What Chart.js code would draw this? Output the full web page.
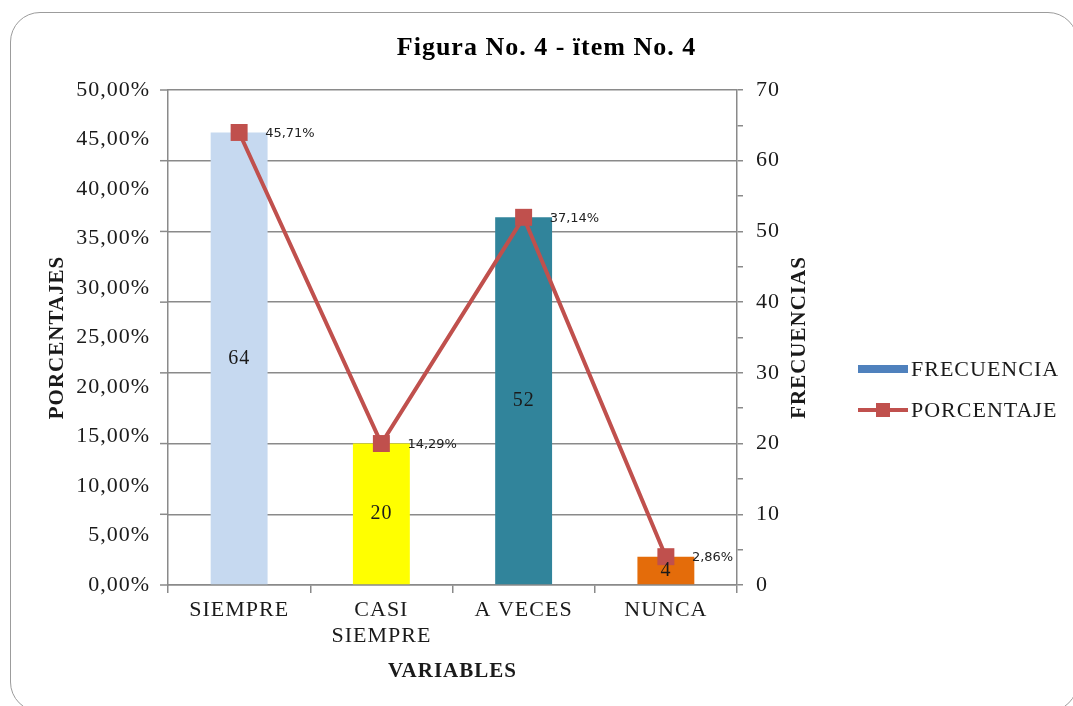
<!DOCTYPE html>
<html>
<head>
<meta charset="utf-8">
<script src="https://cdn.jsdelivr.net/npm/chart.js@4.4.1/dist/chart.umd.min.js"></script>
<style>
  html, body { margin: 0; padding: 0; background: #fff; overflow: hidden; }
  #wrap { position: relative; width: 1073px; height: 706px; overflow: hidden; }
  #frame { position: absolute; left: 10px; top: 12px; width: 1068px; height: 700px;
           border: 1.5px solid #9c9c9c; border-radius: 30px; box-sizing: border-box; }
  canvas { position: absolute; left: 0; top: 0; }
</style>
</head>
<body>
<div id="wrap">
  <div id="frame"></div>
  <canvas id="chart" width="1073" height="706"></canvas>
</div>
<script>
// Categories and series
const categories = ['SIEMPRE', ['CASI', 'SIEMPRE'], 'A VECES', 'NUNCA'];
const frecuencias = [64, 20, 52, 4];
const porcentajes = [45.71, 14.29, 37.14, 2.86];
const barColors = ['#C6D9F0', '#FFFF00', '#31849B', '#E46C0A'];
const legendBarColor = '#4F81BD';

// Axis ranges
const pctAxis = { min: 0, max: 50, step: 5 };
const freqAxis = { min: 0, max: 70, step: 5, labelEvery: 10 };

const SERIF = '"Liberation Serif", "Times New Roman", serif';
const GRID = '#8a8a8a';
const INK = '#1a1a1a';
const RED = '#C0504D';
const SPACING = '1px';

// Right-hand band: frequency axis, its title, then the legend
const RIGHT_BAND = 326;
const RIGHT_TITLE_X = 63;   // title centre, measured from the axis line
const LEGEND_X = 121;       // legend swatch start, measured from the axis line

const fmtPct = v => v.toFixed(2).replace('.', ',') + '%';

// Slightly open letter spacing for all canvas text
const spacing = {
  id: 'spacing',
  beforeUpdate(chart) { chart.ctx.letterSpacing = SPACING; },
  beforeDraw(chart) { chart.ctx.letterSpacing = SPACING; }
};

// Value labels: frequency in the middle of each bar, percentage beside each marker
const valueLabels = {
  id: 'valueLabels',
  afterDatasetsDraw(chart) {
    const ctx = chart.ctx;
    ctx.save();
    const barMeta = chart.getDatasetMeta(1);
    ctx.font = '20px ' + SERIF;
    ctx.fillStyle = INK;
    ctx.textAlign = 'center';
    ctx.textBaseline = 'middle';
    barMeta.data.forEach((bar, i) => {
      ctx.fillText(String(frecuencias[i]), bar.x, (bar.y + bar.base) / 2);
    });
    const lineMeta = chart.getDatasetMeta(0);
    ctx.letterSpacing = '0px';
    ctx.font = '13px "DejaVu Sans", sans-serif';
    ctx.fillStyle = '#222';
    ctx.textAlign = 'left';
    lineMeta.data.forEach((pt, i) => {
      ctx.fillText(fmtPct(porcentajes[i]), pt.x + 26, pt.y + 1);
    });
    ctx.restore();
  }
};

// Left tick marks on the frequency grid, right axis title, and the legend
const decor = {
  id: 'decor',
  afterDraw(chart) {
    const ctx = chart.ctx;
    const yL = chart.scales.y;
    const yR = chart.scales.y1;
    const area = chart.chartArea;
    ctx.save();
    ctx.strokeStyle = GRID;
    ctx.lineWidth = 1.5;
    yR.ticks.forEach(t => {
      if (t.value % freqAxis.labelEvery !== 0) return;
      const py = yR.getPixelForValue(t.value);
      ctx.beginPath();
      ctx.moveTo(yL.right - 8, py);
      ctx.lineTo(yL.right, py);
      ctx.stroke();
    });
    ctx.restore();

    // right axis title, reading bottom-to-top
    const tOpt = yR.options.title;
    ctx.save();
    ctx.font = 'bold ' + tOpt.font.size + 'px ' + SERIF;
    ctx.letterSpacing = SPACING;
    ctx.fillStyle = INK;
    ctx.textAlign = 'center';
    ctx.textBaseline = 'middle';
    ctx.translate(yR.left + RIGHT_TITLE_X, (yR.top + yR.bottom) / 2);
    ctx.rotate(-Math.PI / 2);
    ctx.fillText(tOpt.text, 0, 0);
    ctx.restore();

    // legend to the right of the frequency axis
    const ds = chart.data.datasets;
    const items = [
      { text: ds[1].label, kind: 'bar' },
      { text: ds[0].label, kind: 'line' }
    ];
    const x0 = yR.left + LEGEND_X;
    const boxW = 50;
    const midY = (area.top + area.bottom) / 2;
    const rowGap = 41;
    const firstY = midY + 31.5;
    ctx.save();
    ctx.font = '22px ' + SERIF;
    ctx.letterSpacing = SPACING;
    ctx.textAlign = 'left';
    ctx.textBaseline = 'middle';
    items.forEach((it, i) => {
      const cy = firstY + i * rowGap;
      if (it.kind === 'bar') {
        ctx.fillStyle = legendBarColor;
        ctx.fillRect(x0, cy - 4, boxW, 8);
      } else {
        ctx.strokeStyle = RED;
        ctx.lineWidth = 4;
        ctx.beginPath();
        ctx.moveTo(x0, cy);
        ctx.lineTo(x0 + boxW, cy);
        ctx.stroke();
        ctx.fillStyle = RED;
        ctx.fillRect(x0 + boxW / 2 - 7, cy - 7, 14, 14);
      }
      ctx.fillStyle = INK;
      ctx.fillText(it.text, x0 + boxW + 3, cy + 1);
    });
    ctx.restore();
  }
};

new Chart(document.getElementById('chart'), {
  type: 'bar',
  data: {
    labels: categories,
    datasets: [
      {
        type: 'line',
        label: 'PORCENTAJE',
        data: porcentajes,
        yAxisID: 'y',
        order: 0,
        borderColor: RED,
        backgroundColor: RED,
        borderWidth: 4,
        pointStyle: 'rect',
        pointRadius: 12,
        pointBorderWidth: 0,
        pointBackgroundColor: RED,
        tension: 0
      },
      {
        type: 'bar',
        label: 'FRECUENCIA',
        data: frecuencias,
        yAxisID: 'y1',
        order: 1,
        backgroundColor: barColors,
        borderWidth: 0,
        barPercentage: 0.4,
        categoryPercentage: 1
      }
    ]
  },
  options: {
    responsive: false,
    animation: false,
    devicePixelRatio: 1,
    layout: { padding: { left: 30, right: 10, top: 22, bottom: 17.4 } },
    plugins: {
      title: {
        display: true,
        text: 'Figura No. 4 - ïtem No. 4',
        color: '#000',
        font: { family: SERIF, size: 26, weight: 'bold' },
        padding: { top: 11, bottom: 25.8 }
      },
      legend: { display: false },
      tooltip: { enabled: false }
    },
    scales: {
      x: {
        offset: true,
        grid: { offset: true, drawOnChartArea: false, tickLength: 8, color: GRID, lineWidth: 1.5 },
        border: { color: GRID, width: 1.5 },
        ticks: { color: INK, font: { family: SERIF, size: 22, lineHeight: 1.2 }, padding: 4, maxRotation: 0 },
        title: {
          display: true, text: 'VARIABLES', color: INK,
          font: { family: SERIF, size: 21, weight: 'bold' },
          padding: { top: 10, bottom: 4 }
        },
        afterFit: s => { s.height = 103.6; }
      },
      y: {
        position: 'left',
        min: pctAxis.min,
        max: pctAxis.max,
        grid: { drawOnChartArea: false, drawTicks: true, tickLength: 8, color: 'rgba(0,0,0,0)' },
        border: { color: GRID, width: 1.5 },
        ticks: { stepSize: pctAxis.step, padding: 10, color: INK, font: { family: SERIF, size: 22 }, callback: v => fmtPct(v) },
        title: {
          display: true, text: 'PORCENTAJES', color: INK,
          font: { family: SERIF, size: 21, weight: 'bold' },
          padding: { top: 15.4, bottom: 5 }
        },
        afterFit: s => { s.width = 138; }
      },
      y1: {
        position: 'right',
        min: freqAxis.min,
        max: freqAxis.max,
        grid: {
          drawOnChartArea: true,
          tickLength: 6,
          lineWidth: 1.5,
          color: c => (c.tick && c.tick.value % freqAxis.labelEvery === 0) ? GRID : 'rgba(0,0,0,0)',
          tickColor: GRID
        },
        border: { color: GRID, width: 1.5 },
        ticks: {
          stepSize: freqAxis.step, padding: 13, color: INK,
          font: { family: SERIF, size: 22 },
          callback: v => (v % freqAxis.labelEvery === 0 ? String(v) : '')
        },
        title: {
          display: true, text: 'FRECUENCIAS', color: 'rgba(0,0,0,0)',
          font: { family: SERIF, size: 21, weight: 'bold' }
        },
        afterFit: s => { s.width = RIGHT_BAND; }
      }
    }
  },
  plugins: [spacing, valueLabels, decor]
});
</script>
</body>
</html>
